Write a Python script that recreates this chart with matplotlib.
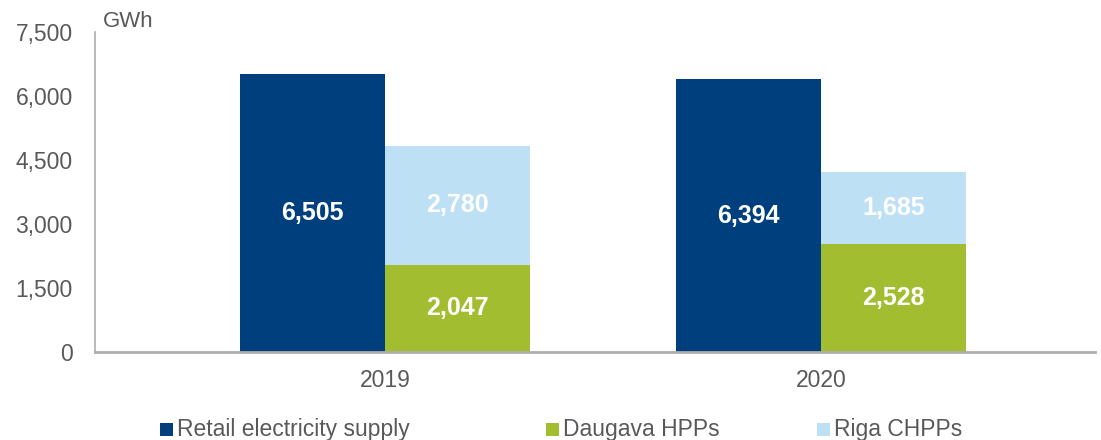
import matplotlib
matplotlib.use('Agg')
import matplotlib.pyplot as plt
from matplotlib.patches import Rectangle
import numpy as np

years = ['2019', '2020']
retail = [6505, 6394]
daugava = [2047, 2528]
riga = [2780, 1685]
yticks = [0, 1500, 3000, 4500, 6000, 7500]
series_names = ['Retail electricity supply', 'Daugava HPPs', 'Riga CHPPs']

navy = '#003f7d'
green = '#a3bd31'
light = '#bde0f5'
grey_txt = '#595959'
axis_col = '#b0acac'

plt.rcParams['font.family'] = ['Liberation Sans', 'DejaVu Sans']

W, H = 1101, 440
fig = plt.figure(figsize=(W / 100, H / 100), dpi=100)
ax = fig.add_axes([95 / W, (H - 352) / H, 1000 / W, 320 / H])

x = np.arange(len(years))
w = 0.333
ax.bar(x - w / 2, retail, w, color=navy)
ax.bar(x + w / 2, daugava, w, color=green)
ax.bar(x + w / 2, riga, w, bottom=daugava, color=light)

lab = dict(ha='center', va='center', color='white', fontsize=18, fontweight='bold')
for i in range(len(years)):
    ax.text(x[i] - w / 2, retail[i] / 2, f'{retail[i]:,}', **lab)
    ax.text(x[i] + w / 2, daugava[i] / 2, f'{daugava[i]:,}', **lab)
    ax.text(x[i] + w / 2, daugava[i] + riga[i] / 2, f'{riga[i]:,}', **lab)

ax.set_xlim(-0.665, 1.628)
ax.set_ylim(0, 7500)
ax.set_yticks(yticks)
ax.set_yticklabels([f'{v:,}' for v in yticks])
ax.set_xticks(x)
ax.set_xticklabels(years)
ax.tick_params(axis='both', length=0, labelsize=16.5, colors=grey_txt)
ax.tick_params(axis='y', pad=16)
ax.tick_params(axis='x', pad=12)

for s in ['top', 'right']:
    ax.spines[s].set_visible(False)
ax.spines['left'].set_color(axis_col)
ax.spines['left'].set_linewidth(1.2)
ax.spines['bottom'].set_color(axis_col)
ax.spines['bottom'].set_linewidth(2)

ax.text(0.008, 1.0, 'GWh', transform=ax.transAxes, fontsize=16, color=grey_txt,
        ha='left', va='bottom')

# legend, laid out by hand to match the original spacing
leg_x = [160, 546, 817]
leg_y = 429
for lx, name, col in zip(leg_x, series_names, [navy, green, light]):
    fig.patches.append(Rectangle((lx / W, (H - leg_y - 6.5) / H), 13 / W, 13 / H,
                                 transform=fig.transFigure, facecolor=col, edgecolor='none'))
    fig.text((lx + 17) / W, (H - leg_y) / H, name, fontsize=16.5, color=grey_txt,
             ha='left', va='center')

fig.savefig('out.png', dpi=100)
